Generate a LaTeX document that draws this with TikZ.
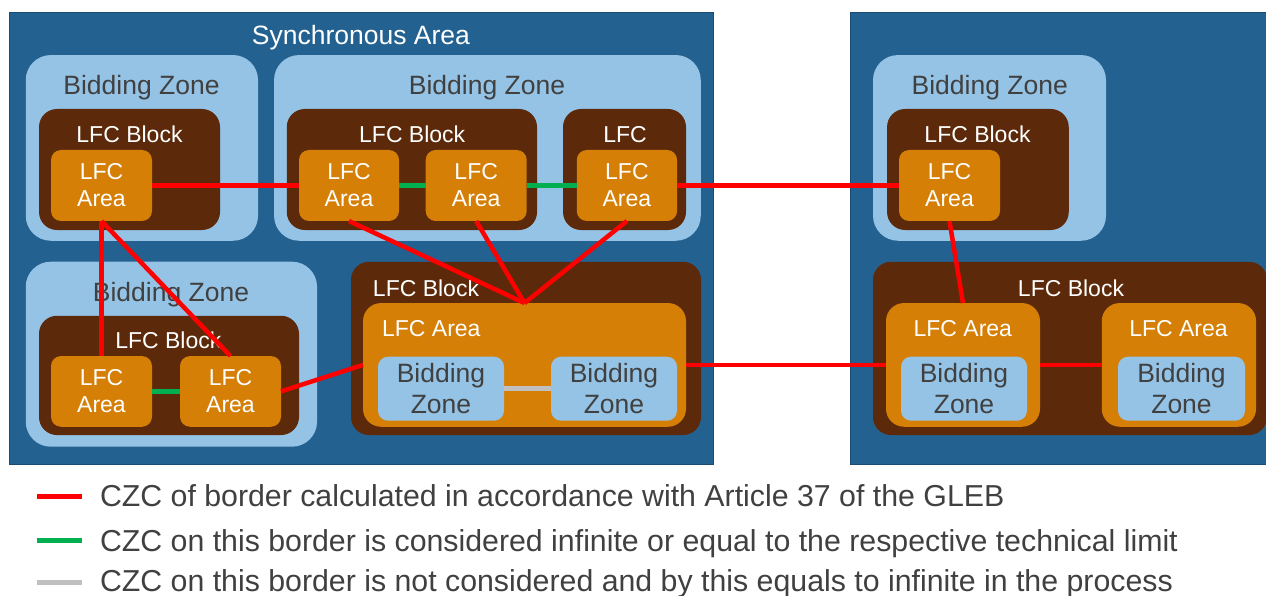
\documentclass[tikz,border=0pt]{standalone}
\usepackage{fontspec}
\setmainfont{Liberation Sans}
\definecolor{syncblue}{HTML}{236190}
\definecolor{syncedge}{HTML}{1C4B72}
\definecolor{zoneblue}{HTML}{95C3E5}
\definecolor{blockbrown}{HTML}{5C2A0A}
\definecolor{areaorange}{HTML}{D57F07}
\definecolor{zonetext}{HTML}{404040}
\definecolor{czcred}{HTML}{FF0000}
\definecolor{czcgreen}{HTML}{00B050}
\definecolor{czcgray}{HTML}{C0C0C0}
\begin{document}
\begin{tikzpicture}[x=1pt,y=-1pt,
  every node/.style={inner sep=0pt, outer sep=0pt},
  syncbox/.style={rectangle, fill=syncblue, draw=syncedge, line width=1pt},
  zonebox/.style={rectangle, rounded corners=25pt, fill=zoneblue},
  blockbox/.style={rectangle, rounded corners=18pt, fill=blockbrown},
  areabox/.style={rectangle, rounded corners=10pt, fill=areaorange, text=white, align=center,
    font=\fontsize{23}{27}\selectfont},
  bigareabox/.style={rectangle, rounded corners=18pt, fill=areaorange},
  innerzone/.style={rectangle, rounded corners=10pt, fill=zoneblue, text=zonetext, align=center,
    font=\fontsize{26.5}{30.7}\selectfont},
  zonelabel/.style={anchor=base, text=zonetext, font=\fontsize{26.5}{30}\selectfont},
  whitelabel/.style={anchor=base, text=white, font=\fontsize{23}{27}\selectfont},
  synclabel/.style={anchor=base, text=white, font=\fontsize{26.5}{30}\selectfont},
  legendtext/.style={anchor=base west, text=zonetext, font=\fontsize{30.3}{33}\selectfont},
  redlink/.style={draw=czcred, line width=4.5pt},
  greenlink/.style={draw=czcgreen, line width=4.5pt},
  graylink/.style={draw=czcgray, line width=4.5pt}
]
\useasboundingbox (0,0) rectangle (1266,596);

% synchronous areas
\node (sa1) [syncbox, minimum width=704pt, minimum height=451pt] at (361,238.5) {};
\node (sa2) [syncbox, minimum width=425pt, minimum height=451pt] at (1062.5,238.5) {};
\node (sa1lbl) [synclabel] at (361,44.5) {Synchronous Area};

% bidding zones
\node (bz1) [zonebox, minimum width=232.3pt, minimum height=185.7pt] at (141.9,147.9) {};
\node (bz2) [zonebox, minimum width=426.7pt, minimum height=185.7pt] at (487.4,147.9) {};
\node (bz3) [zonebox, minimum width=291.3pt, minimum height=185pt] at (171.4,354.2) {};
\node (bz4) [zonebox, minimum width=233pt, minimum height=185.7pt] at (989.5,147.9) {};
\node (bz1lbl) [zonelabel] at (141.5,94.3) {Bidding Zone};
\node (bz2lbl) [zonelabel] at (487,94.3) {Bidding Zone};
\node (bz3lbl) [zonelabel] at (171,301) {Bidding Zone};
\node (bz4lbl) [zonelabel] at (989.7,94.3) {Bidding Zone};

% LFC blocks
\node (blk1) [blockbox, minimum width=181pt, minimum height=121pt] at (129.5,169.5) {};
\node (blk2) [blockbox, minimum width=250.3pt, minimum height=121pt] at (411.9,169.5) {};
\node (blk3) [blockbox, minimum width=123pt, minimum height=121pt] at (624.5,169.5) {};
\node (blk4) [blockbox, minimum width=260pt, minimum height=119.3pt] at (169,375.4) {};
\node (blk5) [blockbox, minimum width=350pt, minimum height=173.3pt] at (526,348.4) {};
\node (blk6) [blockbox, minimum width=181.7pt, minimum height=121pt] at (977.9,169.5) {};
\node (blk7) [blockbox, minimum width=394pt, minimum height=173.3pt] at (1070,348.4) {};
\node (blk1lbl) [whitelabel] at (129.5,142.6) {LFC Block};
\node (blk2lbl) [whitelabel] at (412.2,142.6) {LFC Block};
\node (blk3lbl) [whitelabel] at (625,142.6) {LFC};
\node (blk4lbl) [whitelabel] at (168.3,348.3) {LFC Block};
\node (blk5lbl) [whitelabel] at (426,296.7) {LFC Block};
\node (blk6lbl) [whitelabel] at (977.5,142.6) {LFC Block};
\node (blk7lbl) [whitelabel] at (1071,296.7) {LFC Block};

% small LFC areas
\node (a1) [areabox, minimum width=101pt, minimum height=71pt] at (101.5,185.5) {LFC\\Area};
\node (a2) [areabox, minimum width=100pt, minimum height=71pt] at (349,185.5) {LFC\\Area};
\node (a3) [areabox, minimum width=101pt, minimum height=71pt] at (476.2,185.5) {LFC\\Area};
\node (a4) [areabox, minimum width=100.3pt, minimum height=71pt] at (626.9,185.5) {LFC\\Area};
\node (a5) [areabox, minimum width=101pt, minimum height=70.7pt] at (101.5,391.4) {LFC\\Area};
\node (a6) [areabox, minimum width=101pt, minimum height=70.7pt] at (230.5,391.4) {LFC\\Area};
\node (a8) [areabox, minimum width=101pt, minimum height=71pt] at (949.5,185.5) {LFC\\Area};

% large LFC areas holding bidding zones
\node (a7) [bigareabox, minimum width=323pt, minimum height=123.7pt] at (524.5,364.9) {};
\node (a9) [bigareabox, minimum width=154pt, minimum height=123.7pt] at (963,364.9) {};
\node (a10) [bigareabox, minimum width=154.3pt, minimum height=123.7pt] at (1178.9,364.9) {};
\node (a7lbl) [whitelabel] at (431.3,336) {LFC Area};
\node (a9lbl) [whitelabel] at (962.8,336) {LFC Area};
\node (a10lbl) [whitelabel] at (1178.5,336) {LFC Area};

\node (za) [innerzone, minimum width=126pt, minimum height=64pt] at (441,388.7) {Bidding\\Zone};
\node (zb) [innerzone, minimum width=126pt, minimum height=64pt] at (614,388.7) {Bidding\\Zone};
\node (zc) [innerzone, minimum width=126pt, minimum height=64pt] at (964,388.7) {Bidding\\Zone};
\node (zd) [innerzone, minimum width=127pt, minimum height=64pt] at (1181.5,388.7) {Bidding\\Zone};

% borders between areas
\draw[greenlink] (a2.east) -- (a3.west);
\draw[greenlink] (a3.east) -- (a4.west);
\draw[greenlink] (a5.east) -- (a6.west);
\draw[graylink] (za.east) -- (zb.west);

\draw[redlink] (a1.east) -- (a2.west);
\draw[redlink] (a4.east) -- (a8.west);
\draw[redlink] (a2.south) -- (a7.north);
\draw[redlink] (a3.south) -- (a7.north);
\draw[redlink] (a4.south) -- (a7.north);
\draw[redlink] (a1.south) -- (a5.north);
\draw[redlink] (a1.south) -- (a6.north);
\draw[redlink] (a6.east) -- (a7.west);
\draw[redlink] (a7.east) -- (a9.west);
\draw[redlink] (a8.south) -- (a9.north);
\draw[redlink] (a9.east) -- (a10.west);

% legend
\coordinate (r1) at (36.7,496.7);
\coordinate (r2) at (82.3,496.7);
\coordinate (g1) at (36.7,540.7);
\coordinate (g2) at (82.3,540.7);
\coordinate (s1) at (36.7,582.7);
\coordinate (s2) at (82.3,582.7);
\draw[redlink] (r1) -- (r2);
\draw[greenlink] (g1) -- (g2);
\draw[graylink] (s1) -- (s2);
\node (leg1) [legendtext] at (100,506.7) {CZC of border calculated in accordance with Article 37 of the GLEB};
\node (leg2) [legendtext] at (100,551) {CZC on this border is considered infinite or equal to the respective technical limit};
\node (leg3) [legendtext] at (100,591.7) {CZC on this border is not considered and by this equals to infinite in the process};
\end{tikzpicture}
\end{document}
